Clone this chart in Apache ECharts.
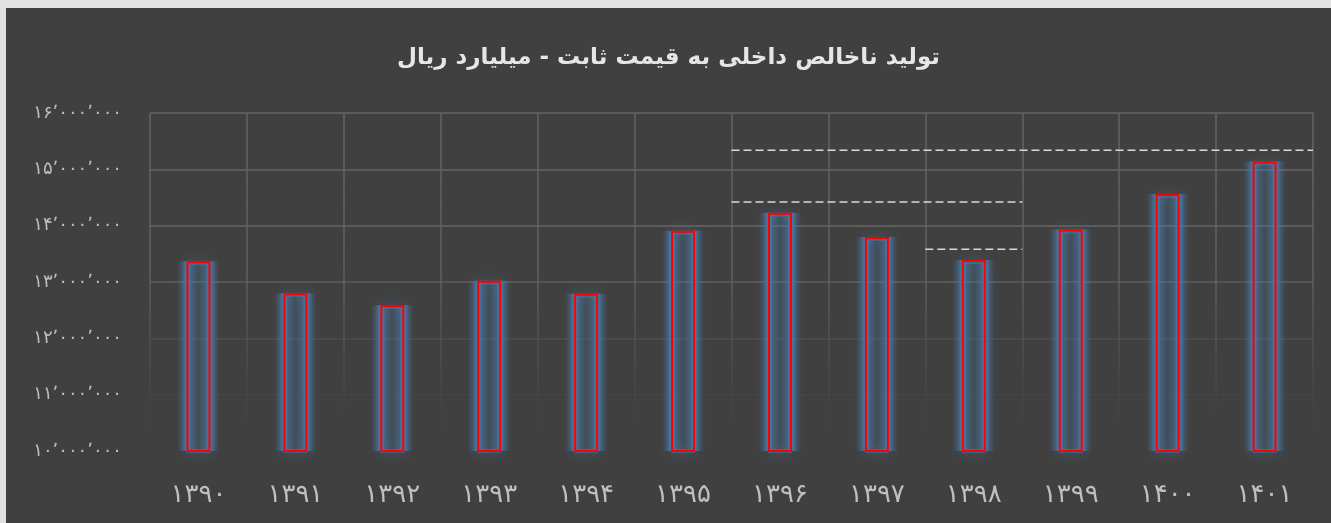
<!DOCTYPE html>
<html>
<head>
<meta charset="utf-8">
<script src="https://cdn.jsdelivr.net/npm/echarts@6/dist/echarts.min.js"></script>
<style>
	html, body { margin: 0; padding: 0; background: #e1e1e1; }
	#chart { position: absolute; left: 6px; top: 8px; width: 1325px; height: 515px; background: #404040; }
</style>
</head>
<body>
<div id="chart"></div>
<script>
// سال‌ها و مقادیر تولید ناخالص داخلی (میلیارد ریال)
const years = ['۱۳۹۰', '۱۳۹۱', '۱۳۹۲', '۱۳۹۳', '۱۳۹۴', '۱۳۹۵', '۱۳۹۶', '۱۳۹۷', '۱۳۹۸', '۱۳۹۹', '۱۴۰۰', '۱۴۰۱'];
const gdp = [13370000, 12800000, 12590000, 13020000, 12790000, 13910000, 14230000, 13800000, 13390000, 13930000, 14560000, 15140000];

// خطوط چین مرجع: شروع و پایان (بر حسب شماره دسته) و مقدار
const refStart = [6, 6, 8];
const refEnd = [12, 9, 9];
const refValue = [15340000, 14420000, 13580000];

const yMin = 10000000, yMax = 16000000, yStep = 1000000;

const faDigits = '۰۱۲۳۴۵۶۷۸۹';
function toFa(n) {
	let s = String(n).replace(/\B(?=(\d{3})+(?!\d))/g, '٬');
	return s.replace(/\d/g, d => faDigits[+d]);
}

const myChart = echarts.init(document.getElementById('chart'));

let refSeries = refValue.map((v, i) => ({
	type: 'line',
	xAxisIndex: 1,
	data: [[refStart[i], v], [refEnd[i], v]],
	symbol: 'none',
	silent: true,
	lineStyle: { color: '#d9d9d9', width: 1.5, type: [8, 4] },
	z: 5
}));

const glow = 'rgba(72,122,170,';
let option = {
	animation: false,
	title: {
		text: 'تولید ناخالص داخلی به قیمت ثابت - میلیارد ریال',
		left: 'center',
		top: 34,
		textStyle: { color: '#e6e6e6', fontSize: 23, fontWeight: 'bold', fontFamily: 'DejaVu Sans' }
	},
	grid: { left: 144, right: 18, top: 105, bottom: 72 },
	xAxis: [{
		type: 'category',
		data: years,
		axisLine: { show: false },
		axisTick: { show: false },
		axisLabel: { color: '#bfbfbf', fontSize: 26, margin: 31, fontFamily: 'DejaVu Sans' },
		splitLine: {
			show: true,
			lineStyle: {
				width: 1.5,
				color: new echarts.graphic.LinearGradient(0, 0, 0, 1, [
					{ offset: 0, color: 'rgba(100,100,100,1)' },
					{ offset: 0.45, color: 'rgba(100,100,100,0.9)' },
					{ offset: 0.85, color: 'rgba(100,100,100,0.1)' },
					{ offset: 1, color: 'rgba(100,100,100,0)' }
				])
			}
		}
	}, {
		type: 'value',
		min: 0,
		max: years.length,
		show: false
	}, {
		type: 'category',
		data: years,
		show: false
	}],
	yAxis: {
		type: 'value',
		min: yMin,
		max: yMax,
		interval: yStep,
		axisLine: { show: false },
		axisTick: { show: false },
		axisLabel: { color: '#bfbfbf', fontSize: 18, margin: 28, fontFamily: 'DejaVu Sans', formatter: v => toFa(v) },
		splitLine: {
			lineStyle: {
				width: 1.5,
				color: ['rgba(100,100,100,0)', 'rgba(100,100,100,0.12)', 'rgba(100,100,100,0.35)',
					'rgba(100,100,100,0.8)', 'rgba(100,100,100,1)', 'rgba(100,100,100,1)', 'rgba(100,100,100,1)']
			}
		}
	},
	series: [{
		// هاله آبی دو طرف ستون‌ها
		type: 'bar',
		xAxisIndex: 2,
		data: gdp,
		barWidth: 42,
		silent: true,
		itemStyle: {
			color: new echarts.graphic.LinearGradient(0, 0, 1, 0, [
				{ offset: 0, color: glow + '0)' },
				{ offset: 0.1, color: glow + '0.3)' },
				{ offset: 0.21, color: glow + '0.95)' },
				{ offset: 0.33, color: glow + '0.5)' },
				{ offset: 0.5, color: glow + '0.15)' },
				{ offset: 0.67, color: glow + '0.5)' },
				{ offset: 0.79, color: glow + '0.95)' },
				{ offset: 0.9, color: glow + '0.3)' },
				{ offset: 1, color: glow + '0)' }
			])
		},
		z: 1
	}, {
		// هاله بالای ستون‌ها
		type: 'bar',
		data: gdp,
		barWidth: 24,
		silent: true,
		itemStyle: {
			color: 'rgba(64,64,64,0)',
			borderColor: glow + '0.5)',
			borderWidth: 4,
			shadowBlur: 12,
			shadowColor: glow + '1)'
		},
		z: 2
	}, {
		type: 'bar',
		data: gdp,
		barWidth: 24,
		barGap: '-100%',
		itemStyle: {
			color: 'rgba(64,64,64,0)',
			borderColor: '#ff0000',
			borderWidth: 2
		},
		z: 3
	}].concat(refSeries)
};

myChart.setOption(option);
</script>
</body>
</html>
